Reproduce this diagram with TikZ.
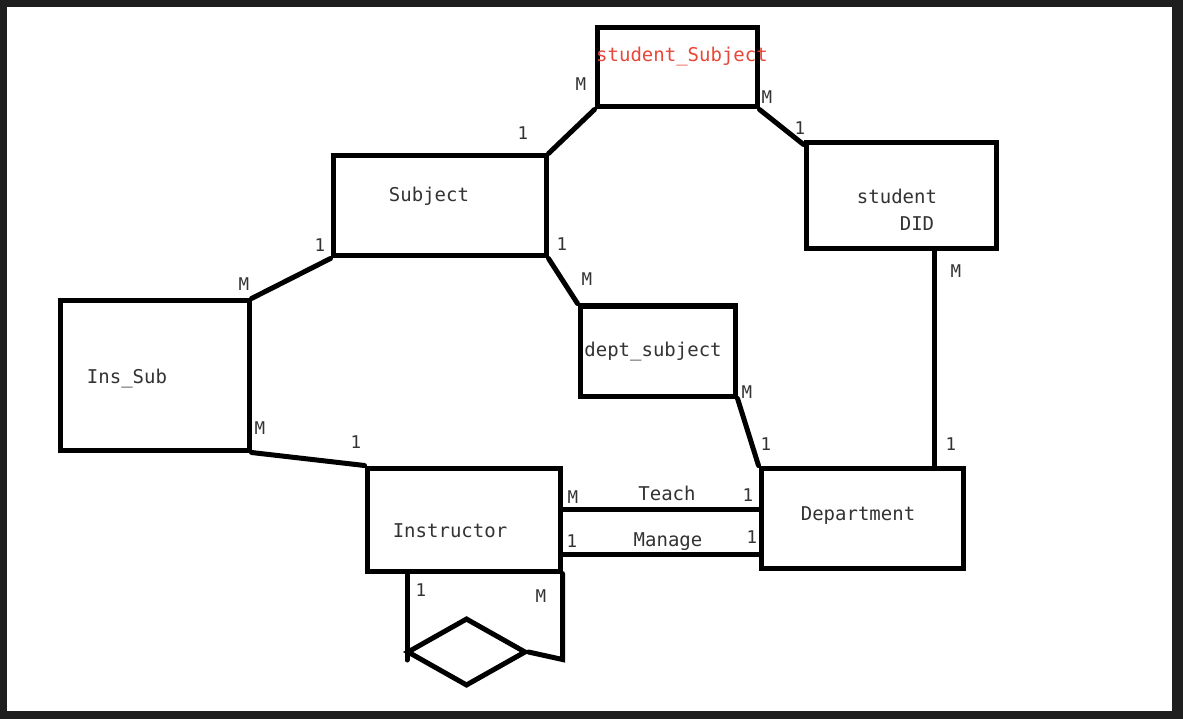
\documentclass[tikz,border=0pt]{standalone}
\usepackage{fontspec}
\newfontfamily\monofont{DejaVu Sans Mono}
\usetikzlibrary{shapes.geometric,calc}
\definecolor{frame}{HTML}{1E1E1E}
\definecolor{txtc}{HTML}{333333}
\definecolor{redtxt}{HTML}{E8483A}
\begin{document}
\begin{tikzpicture}[x=1pt,y=-1pt,
  ent/.style={draw=black,line width=5pt,inner sep=0pt,rectangle},
  con/.style={draw=black,line width=5pt,line cap=round},
  txt/.style={inner sep=0pt,text=txtc,font=\monofont\fontsize{19}{22}\selectfont},
  card/.style={inner sep=0pt,text=txtc,font=\monofont\fontsize{17.5}{20}\selectfont}]
\useasboundingbox (0,0) rectangle (1183,719);
\fill[frame] (0,0) rectangle (1183,719);
\fill[white] (7,7) rectangle (1172,711);
% entity boxes
\node[ent,minimum width=160pt,minimum height=79pt] (ss) at (677,67.5) {};
\node[ent,minimum width=213pt,minimum height=100pt] (subj) at (439.5,206) {};
\node[ent,minimum width=190pt,minimum height=106pt] (sdid) at (901,196) {};
\node[ent,minimum width=189pt,minimum height=149pt] (inssub) at (154.5,375.5) {};
\node[ent,minimum width=155pt,minimum height=90pt] (dsub) at (657.5,351) {};
\node[ent,minimum width=193pt,minimum height=103pt] (instr) at (463.5,519.5) {};
\node[ent,minimum width=202pt,minimum height=100pt] (dept) at (862,518) {};
\node[draw=black,line width=5pt,shape=diamond,inner sep=0pt,minimum width=119pt,minimum height=68pt] (dia) at (466.5,652) {};
% texts
\node[txt,text=redtxt] (tss) at (682,57) {student\_Subject};
\node[txt] (tsubj) at (429,196) {Subject};
\node[txt] (tsd1) at (897,196) {student};
\node[txt] (tsd2) at (917,224) {DID};
\node[txt] (tins) at (127,379) {Ins\_Sub};
\node[txt] (tdsub) at (653,352) {dept\_subject};
\node[txt] (tinstr) at (450,531) {Instructor};
\node[txt] (tdept) at (858,516) {Department};
\node[txt] (tteach) at (667,493) {Teach};
\node[txt] (tmanage) at (668,542) {Manage};
% connectors
\draw[con] (subj.north east) -- (ss.south west);
\draw[con] (ss.south east) -- ($(sdid.north west)+(0,4)$);
\draw[con] (subj.south west) -- (inssub.north east);
\draw[con] (subj.south east) -- (dsub.north west);
\draw[con] (dsub.south east) -- (dept.north west);
\draw[con] (sdid.south -| 934,0) -- (dept.north -| 934,0);
\draw[con] (inssub.south east) -- (instr.north west);
\draw[con] (instr.east |- 0,509) -- (dept.west |- 0,509);
\draw[con] (instr.east |- 0,554) -- (dept.west |- 0,554);
\draw[con] (instr.south -| 407,0) -- (407,660);
\draw[con] (instr.south east) -- ++(0,86) -- (dia.east);
% cardinalities
\node[card] (c1) at (581,84) {M};
\node[card] (c2) at (523,133) {1};
\node[card] (c3) at (767,97) {M};
\node[card] (c4) at (800,128) {1};
\node[card] (c5) at (320,245) {1};
\node[card] (c6) at (244,284) {M};
\node[card] (c7) at (562,244) {1};
\node[card] (c8) at (587,279) {M};
\node[card] (c9) at (747,392) {M};
\node[card] (c10) at (766,444) {1};
\node[card] (c11) at (956,271) {M};
\node[card] (c12) at (951,444) {1};
\node[card] (c13) at (260,428) {M};
\node[card] (c14) at (356,442) {1};
\node[card] (c15) at (573,497) {M};
\node[card] (c16) at (748,495) {1};
\node[card] (c17) at (572,541) {1};
\node[card] (c18) at (752,537) {1};
\node[card] (c19) at (421,590) {1};
\node[card] (c20) at (541,596) {M};
\end{tikzpicture}
\end{document}
